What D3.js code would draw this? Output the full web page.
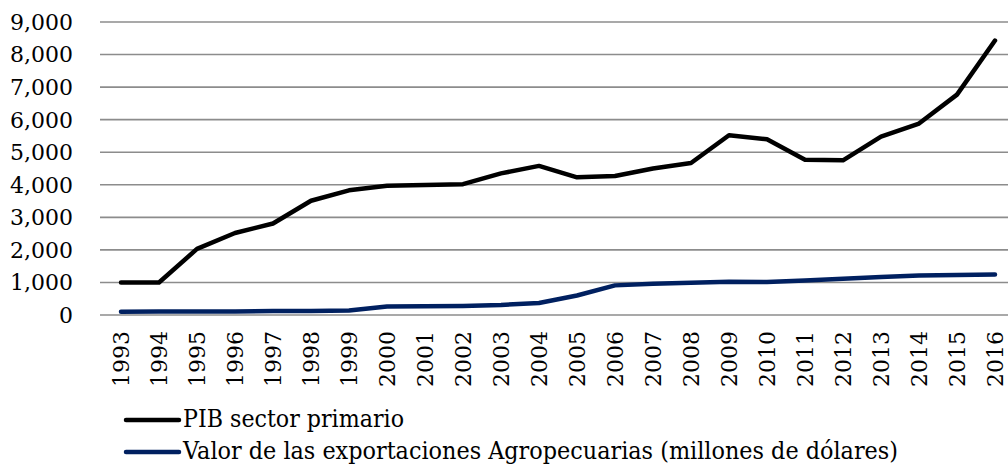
<!DOCTYPE html>
<html>
<head>
<meta charset="utf-8">
<script src="https://cdnjs.cloudflare.com/ajax/libs/d3/7.8.5/d3.min.js"></script>
<style>
  body { margin: 0; background: #fff; }
  text { font-family: "DejaVu Serif", serif; fill: #000; }
</style>
</head>
<body>
<script>
'use strict';

// chart data
const years = ['1993', '1994', '1995', '1996', '1997', '1998', '1999', '2000',
  '2001', '2002', '2003', '2004', '2005', '2006', '2007', '2008', '2009',
  '2010', '2011', '2012', '2013', '2014', '2015', '2016'];
const pibValues = [1000, 1000, 2030, 2520, 2810, 3510, 3830, 3970, 3990, 4020,
  4350, 4580, 4230, 4270, 4500, 4670, 5520, 5400, 4770, 4750, 5480, 5880, 6770, 8430];
const exportValues = [100, 105, 110, 110, 120, 125, 140, 260, 265, 280, 310,
  370, 600, 910, 960, 990, 1020, 1010, 1060, 1110, 1170, 1210, 1230, 1245];
const yTicks = [0, 1000, 2000, 3000, 4000, 5000, 6000, 7000, 8000, 9000];
const seriesNames = ['PIB sector primario',
  'Valor de las exportaciones Agropecuarias (millones de dólares)'];

(function() {

  const svgContainer = d3.select('body')
    .append('svg')
    .attr('width', 1008)
    .attr('height', 472);

  // scales
  const xScale = d3.scalePoint()
    .domain(years)
    .range([121, 995]);

  const yScale = d3.scaleLinear()
    .domain([0, 9000])
    .range([315, 22]);

  const fmt = d3.format(',');

  // horizontal gridlines
  svgContainer.append('g')
    .selectAll('line')
    .data(yTicks)
    .enter()
    .append('line')
      .attr('x1', 100)
      .attr('x2', 1008)
      .attr('y1', d => yScale(d))
      .attr('y2', d => yScale(d))
      .attr('stroke', '#8c8c8c')
      .attr('stroke-width', 1.6);

  // y axis labels
  svgContainer.append('g')
    .selectAll('text')
    .data(yTicks)
    .enter()
    .append('text')
      .attr('x', 73)
      .attr('y', d => yScale(d))
      .attr('dy', '0.36em')
      .attr('text-anchor', 'end')
      .style('font-size', '22px')
      .text(d => fmt(d));

  // x axis labels, rotated
  svgContainer.append('g')
    .selectAll('text')
    .data(years)
    .enter()
    .append('text')
      .attr('transform', d => 'translate(' + xScale(d) + ',331)rotate(-90)')
      .attr('dy', '0.36em')
      .attr('text-anchor', 'end')
      .style('font-size', '22px')
      .text(d => d);

  // line generator
  const line = d3.line()
    .x((d, i) => xScale(years[i]))
    .y(d => yScale(d));

  svgContainer.append('path')
    .datum(exportValues)
    .attr('d', line)
    .attr('fill', 'none')
    .attr('stroke', '#002060')
    .attr('stroke-width', 4.5)
    .attr('stroke-linecap', 'round')
    .attr('stroke-linejoin', 'round');

  svgContainer.append('path')
    .datum(pibValues)
    .attr('d', line)
    .attr('fill', 'none')
    .attr('stroke', '#000')
    .attr('stroke-width', 4.5)
    .attr('stroke-linecap', 'round')
    .attr('stroke-linejoin', 'round');

  // legend
  const legendColors = ['#000', '#002060'];
  const legendY = [420, 452];
  const legendWidths = [221, 715];
  const legend = svgContainer.append('g');

  legend.selectAll('line')
    .data(seriesNames)
    .enter()
    .append('line')
      .attr('x1', 126)
      .attr('x2', 179)
      .attr('y1', (d, i) => legendY[i])
      .attr('y2', (d, i) => legendY[i])
      .attr('stroke', (d, i) => legendColors[i])
      .attr('stroke-width', 4.5)
      .attr('stroke-linecap', 'round');

  legend.selectAll('text')
    .data(seriesNames)
    .enter()
    .append('text')
      .attr('x', 183)
      .attr('y', (d, i) => legendY[i] + 7)
      .attr('textLength', (d, i) => legendWidths[i])
      .attr('lengthAdjust', 'spacingAndGlyphs')
      .style('font-size', '24px')
      .text(d => d);

})();
</script>
</body>
</html>
